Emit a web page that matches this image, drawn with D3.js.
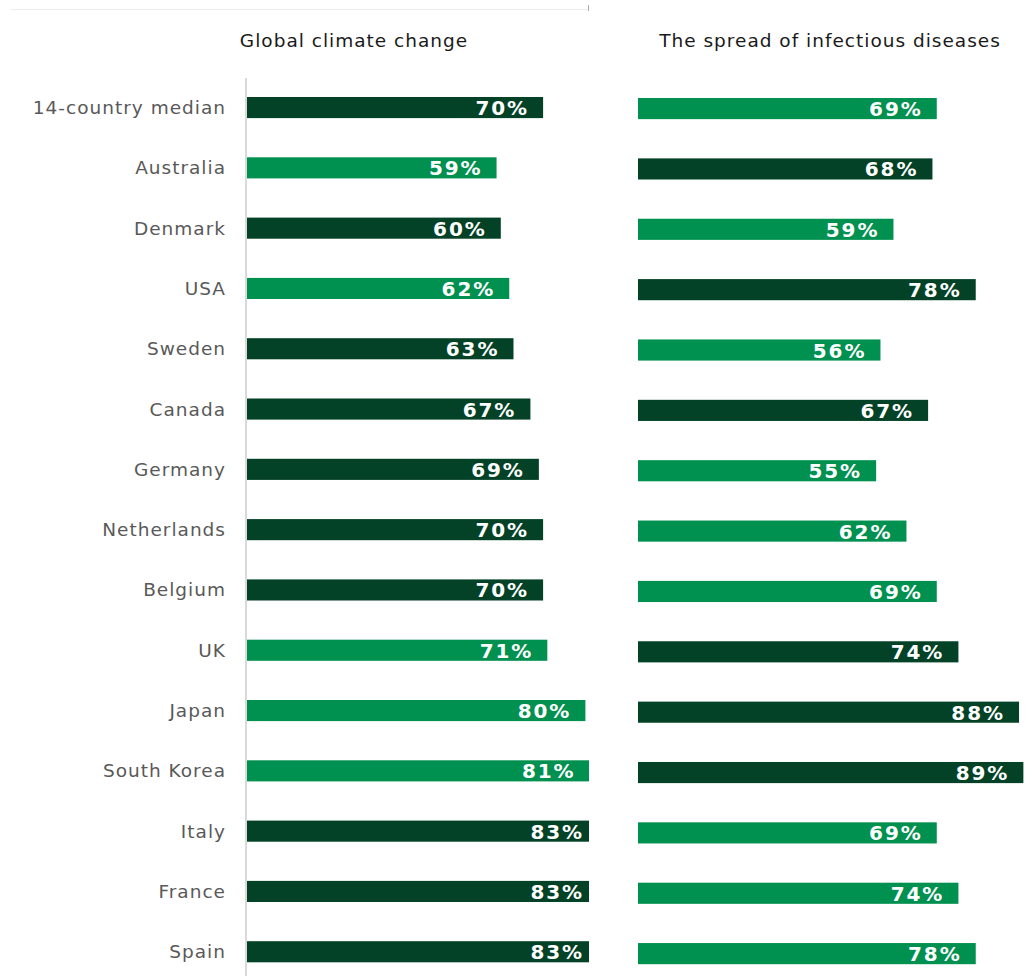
<!DOCTYPE html>
<html>
<head>
<meta charset="utf-8">
<script src="https://cdn.jsdelivr.net/npm/d3@7"></script>
<style>
  html, body { margin: 0; padding: 0; background: #fff; }
  svg { display: block; }
</style>
</head>
<body>
<svg id="chart" width="1033" height="976"></svg>
<script>
// Countries, top to bottom
const countries = ["14-country median", "Australia", "Denmark", "USA", "Sweden", "Canada",
  "Germany", "Netherlands", "Belgium", "UK", "Japan", "South Korea", "Italy", "France", "Spain"];

// Share seeing each threat as a major threat (%)
const climateValues = [70, 59, 60, 62, 63, 67, 69, 70, 70, 71, 80, 81, 83, 83, 83];
const diseaseValues = [69, 68, 59, 78, 56, 67, 55, 62, 69, 74, 88, 89, 69, 74, 78];

// Shade of each bar: "d" = dark green, "l" = light green
const climateShade = ["d", "l", "d", "l", "d", "d", "d", "d", "d", "l", "l", "l", "d", "d", "d"];
const diseaseShade = ["l", "d", "l", "d", "l", "d", "l", "l", "l", "d", "d", "d", "l", "l", "l"];

const panelTitles = ["Global climate change", "The spread of infectious diseases"];

const colors = { d: "#034226", l: "#00904F" };
const FONT = "'DejaVu Sans', Verdana, sans-serif";
const LS_TEXT = 1.0;   // letter spacing for labels and titles
const LS_VAL = 1.9;    // letter spacing for the bold value labels

const svg = d3.select("#chart");

// thin rule across the top
svg.append("line").attr("x1", 11).attr("x2", 588).attr("y1", 9.5).attr("y2", 9.5)
  .attr("stroke", "#ececec").attr("stroke-width", 1);
svg.append("line").attr("x1", 588.5).attr("x2", 588.5).attr("y1", 5).attr("y2", 11)
  .attr("stroke", "#aaa").attr("stroke-width", 1);

// clip for the left panel
svg.append("defs").append("clipPath").attr("id", "leftClip")
  .append("rect").attr("x", 0).attr("y", 0).attr("width", 589).attr("height", 976);

function panel(cfg) {
  const x = d3.scaleLinear().domain([0, 100]).range([cfg.x0, cfg.x0 + cfg.pxPer100]);
  const y = d3.scaleBand().domain(countries)
    .range([cfg.y0, cfg.y0 + cfg.step * countries.length])
    .paddingInner(0.65).paddingOuter(0.325);

  const g = svg.append("g");
  if (cfg.clip) g.attr("clip-path", "url(#leftClip)");

  const rows = countries.map((c, i) => ({ c, v: cfg.values[i], s: cfg.shade[i] }));

  g.selectAll("rect.bar").data(rows).join("rect")
    .attr("class", "bar")
    .attr("x", x(0))
    .attr("y", d => y(d.c))
    .attr("width", d => x(d.v) - x(0))
    .attr("height", y.bandwidth())
    .attr("fill", d => colors[d.s]);

  g.selectAll("text.val").data(rows).join("text")
    .attr("class", "val")
    .attr("x", d => x(d.v) - 16 + LS_VAL)
    .attr("y", d => y(d.c) + y.bandwidth() / 2 + 7.5)
    .attr("text-anchor", "end")
    .attr("font-family", FONT)
    .attr("font-weight", "bold")
    .attr("font-size", 20)
    .attr("letter-spacing", LS_VAL)
    .attr("fill", "#fff")
    .text(d => d.v + "%");

  svg.append("text")
    .attr("x", cfg.titleX + LS_TEXT / 2)
    .attr("y", 47)
    .attr("text-anchor", "middle")
    .attr("font-family", FONT)
    .attr("font-size", 18.5)
    .attr("letter-spacing", LS_TEXT)
    .attr("fill", "#1a1a1a")
    .text(cfg.title);

  return { x, y };
}

const left = panel({
  x0: 247, pxPer100: 423, y0: 77.4, step: 60.3,
  values: climateValues, shade: climateShade, clip: true,
  title: panelTitles[0], titleX: 353.5
});

panel({
  x0: 638, pxPer100: 433, y0: 78.4, step: 60.36,
  values: diseaseValues, shade: diseaseShade, clip: false,
  title: panelTitles[1], titleX: 829.5
});

// category axis for the left panel
const yAxis = d3.axisLeft(left.y).tickSize(0).tickPadding(21 - LS_TEXT);
const ax = svg.append("g").attr("transform", "translate(246,0)").call(yAxis);
ax.select(".domain").remove();
ax.append("line").attr("x1", 0).attr("x2", 0).attr("y1", 78).attr("y2", 976)
  .attr("stroke", "#d9d9d9").attr("stroke-width", 2);
ax.selectAll(".tick text")
  .attr("font-family", FONT)
  .attr("font-size", 18.5)
  .attr("letter-spacing", LS_TEXT)
  .attr("fill", "#595959")
  .attr("dy", "0.35em");
</script>
</body>
</html>
